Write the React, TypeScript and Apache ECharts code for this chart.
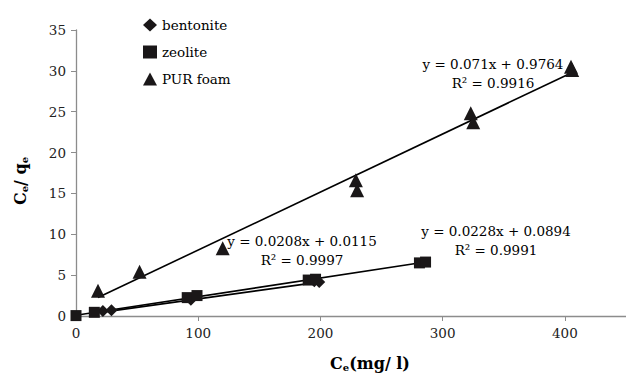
import React, { useEffect, useRef } from "react";
import * as echarts from "echarts";

const seriesNames = ["bentonite", "zeolite", "PUR foam"];
const bentoniteX = [22, 29, 94, 195, 199];
const bentoniteY = [0.6, 0.7, 2.0, 4.25, 4.15];
const zeoliteX = [0, 15, 91, 99, 190, 196, 281, 286];
const zeoliteY = [0.05, 0.45, 2.25, 2.5, 4.4, 4.5, 6.5, 6.6];
const purX = [18, 52, 120, 229, 230, 323, 325, 405, 406];
const purY = [3.1, 5.4, 8.3, 16.6, 15.4, 24.8, 23.7, 30.5, 30.1];
const fitSlopes = [0.0208, 0.0228, 0.071];
const fitIntercepts = [0.0115, 0.0894, 0.9764];
const fitEquations = ["y = 0.0208x + 0.0115", "y = 0.0228x + 0.0894", "y = 0.071x + 0.9764"];
const fitR2 = ["R² = 0.9997", "R² = 0.9991", "R² = 0.9916"];

const FONT = "DejaVu Serif";
const FS = 13.5;
const INK = "#1a1718";

function pairs(xs: number[], ys: number[]) {
  return xs.map((x, i) => [x, ys[i]]);
}
function trend(xs: number[], k: number) {
  const a = Math.min(...xs);
  const b = Math.max(...xs);
  return [
    [a, fitSlopes[k] * a + fitIntercepts[k]],
    [b, fitSlopes[k] * b + fitIntercepts[k]],
  ];
}

export default function App() {
  const ref = useRef<HTMLDivElement>(null);
  useEffect(() => {
    if (!ref.current) return;
    const chart = echarts.init(ref.current, null, { renderer: "svg" });
    const xs = [bentoniteX, zeoliteX, purX];
    const ys = [bentoniteY, zeoliteY, purY];
    const symbols = ["diamond", "rect", "triangle"];
    const sizes = [12, 11, 14];
    const scatter = seriesNames.map((n, i) => ({
      name: n,
      type: "scatter",
      data: pairs(xs[i], ys[i]),
      symbol: symbols[i],
      symbolSize: sizes[i],
      itemStyle: { color: INK, opacity: 1 },
      z: 3,
    }));
    const lines = seriesNames.map((n, i) => ({
      name: n + " fit",
      type: "line",
      data: trend(xs[i], i),
      showSymbol: false,
      symbol: "none",
      lineStyle: { color: "#000", width: 1.6 },
      z: 2,
    }));
    const eqPos = [
      [302, 241, 260],
      [496, 231, 250],
      [493, 64, 83],
    ];
    const textStyle = (t: string, x: number, y: number) => ({
      type: "text",
      x,
      y,
      style: {
        text: t,
        fontFamily: FONT,
        fontSize: FS,
        fill: "#000",
        align: "center",
        verticalAlign: "middle",
      },
    });
    const graphics: any[] = [];
    eqPos.forEach((p, i) => {
      graphics.push(textStyle(fitEquations[i], p[0], p[1]));
      graphics.push(textStyle(fitR2[i], p[0], p[2]));
    });
    const rich = {
      b: { fontFamily: FONT, fontWeight: "bold", fontSize: 16, fill: "#000", color: "#000" },
      s: { fontFamily: FONT, fontWeight: "bold", fontSize: 10, fill: "#000", color: "#000", padding: [8, 0, 0, 0] },
    };
    graphics.push({
      type: "text",
      x: 370,
      y: 363,
      style: {
        rich,
        text: "{b|C}{s|e}{b|(mg/ l)}",
        align: "center",
        verticalAlign: "middle",
      },
    });
    graphics.push({
      type: "text",
      x: 20,
      y: 181,
      rotation: Math.PI / 2,
      style: {
        rich,
        text: "{b|C}{s|e}{b|/ q}{s|e}",
        align: "center",
        verticalAlign: "middle",
      },
    });
    chart.setOption({
      animation: false,
      backgroundColor: "#fff",
      grid: { left: 76, right: -5, top: 30, bottom: 60 },
      legend: {
        data: seriesNames,
        orient: "vertical",
        left: 138,
        top: 13,
        itemGap: 13,
        itemWidth: 14,
        itemHeight: 13,
        textStyle: { fontFamily: FONT, fontSize: FS, color: "#000" },
      },
      xAxis: {
        type: "value",
        min: 0,
        max: 450,
        interval: 100,
        splitLine: { show: false },
        axisLine: { lineStyle: { color: "#8c8c8c", width: 1.3 } },
        axisTick: { show: true, length: 5, lineStyle: { color: "#8c8c8c" } },
        axisLabel: { showMaxLabel: false, fontFamily: FONT, fontSize: FS, color: "#222", margin: 10 },
      },
      yAxis: {
        type: "value",
        min: 0,
        max: 35,
        interval: 5,
        splitLine: { show: false },
        axisLine: { show: true, lineStyle: { color: "#8c8c8c", width: 1.3 } },
        axisTick: { show: true, length: 5, lineStyle: { color: "#8c8c8c" } },
        axisLabel: { fontFamily: FONT, fontSize: FS, color: "#222", margin: 10 },
      },
      graphic: graphics,
      series: [...lines, ...scatter],
    });
    return () => chart.dispose();
  }, []);
  return (
    <div
      ref={ref}
      style={{ position: "absolute", left: 0, top: 0, width: 626, height: 376 }}
    />
  );
}
